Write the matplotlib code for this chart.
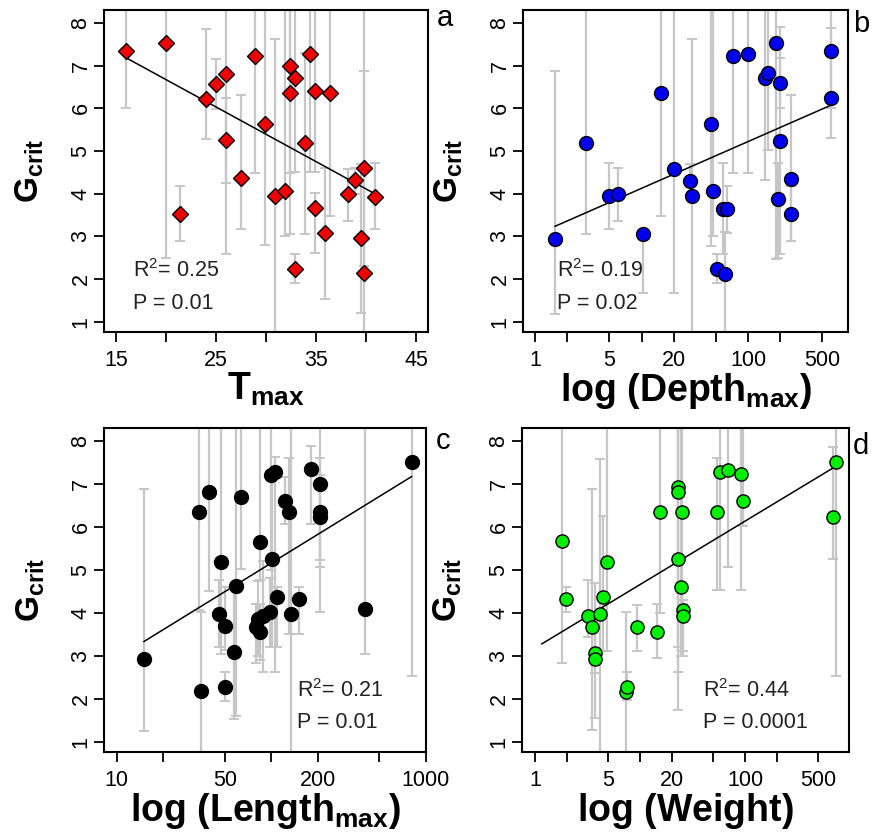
import matplotlib
matplotlib.use("Agg")
import matplotlib.pyplot as plt
from matplotlib.ticker import NullLocator
import numpy as np

plt.rcParams["font.family"] = "Liberation Sans"
plt.rcParams["mathtext.fontset"] = "custom"
plt.rcParams["mathtext.rm"] = "Liberation Sans"
plt.rcParams["mathtext.it"] = "Liberation Sans:italic"
plt.rcParams["mathtext.bf"] = "Liberation Sans:bold"

# panel a: Tmax
a_x = [16.0, 20.0, 21.4, 24.0, 25.0, 26.0, 26.0, 27.5, 28.9, 29.9, 30.9, 31.9, 32.4, 32.4,
       32.9, 32.9, 33.9, 34.4, 34.9, 34.9, 35.9, 36.4, 38.2, 38.9, 39.5, 39.8, 39.8, 40.9]
a_y = [7.35, 7.52, 3.53, 6.22, 6.57, 6.81, 5.25, 4.36, 7.22, 5.64, 3.94, 4.07, 6.99, 6.35,
       6.71, 2.24, 5.19, 7.28, 6.40, 3.67, 3.07, 6.35, 3.99, 4.33, 2.95, 4.59, 2.13, 3.93]
a_lo = [6.01, 2.50, 2.88, 5.29, 5.98, 2.58, 4.25, 3.18, 4.49, 2.79, 0.0, 3.00, 4.48, 3.05,
        4.50, 1.91, 3.05, 4.50, 4.50, 2.60, 1.54, 3.47, 3.36, 4.00, 1.21, 2.30, 0.0, 3.18]
a_hi = [9.0, 9.0, 4.17, 7.86, 7.16, 9.0, 6.25, 6.30, 9.0, 9.0, 7.61, 9.0, 9.0, 9.0,
        9.0, 2.58, 7.30, 9.0, 9.0, 4.02, 4.60, 9.0, 4.58, 4.60, 4.70, 6.87, 9.0, 4.71]

# panel b: Depth max
b_x = [1.54, 3.01, 4.99, 5.97, 10.4, 15.1, 20.3, 28.5, 30.0, 44.7, 46.9, 51.5, 58.7, 60.8,
       63.1, 72.3, 100, 144.5, 155, 182, 193, 200, 200, 252, 252, 598, 598]
b_y = [2.94, 5.18, 3.94, 3.99, 3.06, 6.35, 4.58, 4.29, 3.94, 5.64, 4.07, 2.24, 3.65, 2.12,
       3.65, 7.22, 7.28, 6.70, 6.83, 7.53, 3.88, 6.58, 5.23, 4.35, 3.53, 7.35, 6.24]
b_lo = [1.19, 3.06, 3.18, 3.36, 1.68, 3.47, 1.68, 3.90, 0.3, 2.77, 3.00, 1.91, 2.58, 0.3,
        3.08, 4.49, 4.49, 4.33, 5.03, 2.46, 2.50, 6.01, 2.58, 2.89, 2.89, 6.00, 5.30]
b_hi = [6.87, 9.0, 4.72, 4.59, 3.10, 9.0, 9.0, 4.70, 7.61, 9.0, 9.0, 2.58, 4.72, 3.10,
        4.18, 9.0, 9.0, 9.0, 9.0, 9.0, 4.72, 7.18, 7.90, 6.30, 4.17, 8.70, 7.88]

# panel c: Length max
c_x = [15.0, 34.3, 35.1, 39.7, 45.7, 47.3, 49.8, 49.8, 57.7, 59.4, 64.0, 80, 82.2, 84.1,
       84.1, 88.3, 97.5, 100, 105, 101, 108, 122, 131, 135, 152, 181, 205, 205, 207, 404, 807]
c_y = [2.92, 6.35, 2.17, 6.82, 3.97, 5.19, 3.69, 2.28, 3.09, 4.62, 6.70, 3.67, 3.86, 3.56,
       5.64, 3.92, 4.01, 7.20, 7.27, 5.25, 4.37, 6.59, 6.35, 3.98, 4.31, 7.34, 6.99, 6.35, 6.22, 4.08, 7.51]
c_lo = [1.26, 4.06, 0.0, 4.50, 3.21, 3.05, 3.13, 1.94, 1.53, 1.60, 5.01, 2.82, 3.00, 2.90,
        4.76, 2.63, 3.20, 5.00, 2.63, 3.20, 3.20, 6.07, 3.50, 0.0, 3.50, 6.07, 4.02, 5.07, 5.22, 3.05, 2.52]
c_hi = [6.88, 9.0, 4.02, 9.0, 4.76, 9.0, 4.60, 2.63, 4.60, 9.0, 9.0, 4.21, 4.75, 4.20,
        9.0, 5.20, 4.80, 9.0, 7.62, 7.30, 4.60, 7.15, 7.60, 9.0, 4.59, 7.88, 9.0, 7.60, 7.20, 9.0, 9.0]

# panel d: Weight
d_x = [1.82, 1.96, 3.18, 3.51, 3.73, 3.73, 4.16, 4.48, 4.89, 7.31, 7.57, 9.43, 14.6, 15.5,
       22.8, 22.8, 22.8, 24.4, 25.3, 25.9, 25.9, 54.5, 57.8, 68.9, 91, 95.7, 693, 730]
d_y = [5.66, 4.31, 3.92, 3.67, 3.06, 2.92, 3.97, 4.37, 5.19, 2.15, 2.28, 3.67, 3.56, 6.35,
       6.93, 6.80, 5.24, 4.60, 6.35, 4.06, 3.92, 6.35, 7.27, 7.32, 7.23, 6.59, 6.24, 7.51]
d_lo = [2.82, 4.02, 3.44, 1.28, 2.60, 1.55, 0.3, 3.10, 3.10, 0.3, 1.97, 3.10, 2.94, 4.00,
        3.20, 1.74, 2.63, 3.00, 4.00, 3.10, 3.00, 4.52, 4.52, 5.07, 4.52, 6.03, 5.26, 2.52]
d_hi = [9.0, 4.60, 4.76, 6.88, 4.70, 4.00, 7.58, 6.26, 9.0, 4.02, 2.63, 4.18, 4.21, 9.0,
        9.0, 9.0, 9.0, 9.0, 9.0, 4.30, 4.20, 7.60, 9.0, 9.0, 9.0, 9.0, 7.85, 9.0]

# regression lines: (slope, intercept, x from, x to); log panels use log10(x)
a_fit = (-0.128, 9.23, 16.0, 41.0)
b_fit = (1.094, 3.03, 1.54, 598)
c_fit = (2.218, 0.722, 15.0, 807)
d_fit = (1.476, 3.18, 1.16, 730)

a_stats = ["R$^2$= 0.25", "P = 0.01"]
b_stats = ["R$^2$= 0.19", "P = 0.02"]
c_stats = ["R$^2$= 0.21", "P = 0.01"]
d_stats = ["R$^2$= 0.44", "P = 0.0001"]

W, H = 877, 838
fig = plt.figure(figsize=(W / 100, H / 100), dpi=100)


def panel(box, x, y, lo, hi, marker, color, ms, fit, logx, stats, stat_x,
          xlabel, xlim, ticks, labels, letter, letter_xy):
    l, t, r, b = box
    ax = fig.add_axes([l / W, 1 - b / H, (r - l) / W, (b - t) / H])
    x = np.array(x)
    y = np.array(y)
    err = [y - np.array(lo), np.array(hi) - y]
    ax.errorbar(x, y, yerr=err, fmt="none", ecolor="#c6c6c6", elinewidth=1.6,
                capsize=3.4, capthick=1.4, zorder=1)
    s, i, x0, x1 = fit
    fx = np.array([x0, x1])
    fy = s * (np.log10(fx) if logx else fx) + i
    ax.plot(fx, fy, color="black", lw=1.1, zorder=2)
    ax.plot(x, y, ls="none", marker=marker, ms=ms, mfc=color, mec="black",
            mew=1.0, zorder=3)
    if logx:
        ax.set_xscale("log")
        ax.xaxis.set_minor_locator(NullLocator())
    ax.set_xlim(xlim)
    ax.set_ylim(0.76, 8.3)
    ax.set_xticks(ticks, labels)
    ax.set_yticks(range(1, 9))
    ax.tick_params(axis="x", length=7, width=1.3, labelsize=15.5, pad=6)
    ax.tick_params(axis="y", length=7, width=1.3, labelsize=15.5, pad=2,
                   labelrotation=90)
    for lab in ax.get_yticklabels():
        lab.set_va("center")
    for sp in ax.spines.values():
        sp.set_linewidth(1.5)
    ax.set_ylabel(r"$\mathbf{G_{crit}}$", fontsize=24)
    ax.yaxis.set_label_coords(-0.178, 0.5)
    ax.set_xlabel(xlabel, fontsize=27, labelpad=0)
    ax.text(stat_x, 0.19, stats[0], transform=ax.transAxes, fontsize=15.5,
            va="center", color="#222222")
    ax.text(stat_x, 0.09, stats[1], transform=ax.transAxes, fontsize=15.5,
            va="center", color="#222222")
    fig.text(letter_xy[0] / W, 1 - letter_xy[1] / H, letter, fontsize=21,
             ha="center", va="center")
    return ax


panel((104, 10, 428, 332), a_x, a_y, a_lo, a_hi, "D", "#ee0000", 8.5, a_fit, False,
      a_stats, 0.09, r"$\mathbf{T_{max}}$", (13.8, 46.2),
      [15, 20, 25, 30, 35, 40, 45], ["15", "", "25", "", "35", "", "45"], "a", (445, 18))
panel((523, 10, 848, 332), b_x, b_y, b_lo, b_hi, "o", "#0000ee", 10, b_fit, True,
      b_stats, 0.105, r"$\mathbf{log\ (Depth_{max})}$", (0.77, 871),
      [1, 2, 5, 10, 20, 50, 100, 200, 500], ["1", "", "5", "", "20", "", "100", "", "500"],
      "b", (861, 24))
panel((104, 428, 426, 752), c_x, c_y, c_lo, c_hi, "o", "black", 10, c_fit, True,
      c_stats, 0.6, r"$\mathbf{log\ (Length_{max})}$", (8.28, 989),
      [10, 20, 50, 100, 200, 500, 1000], ["10", "", "50", "", "200", "", "1000"],
      "c", (443, 441))
panel((522, 428, 849, 752), d_x, d_y, d_lo, d_hi, "o", "#00ee00", 9.5, d_fit, True,
      d_stats, 0.553, r"$\mathbf{log\ (Weight)}$", (0.752, 978),
      [1, 2, 5, 10, 20, 50, 100, 200, 500], ["1", "", "5", "", "20", "", "100", "", "500"],
      "d", (861, 446))

fig.savefig("out.png", dpi=100)
